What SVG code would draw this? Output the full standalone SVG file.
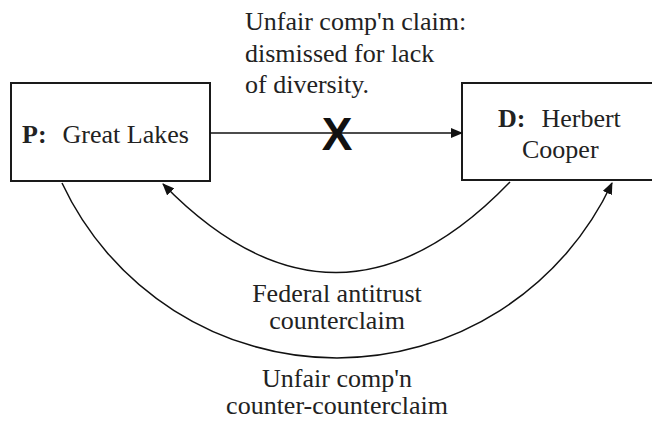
<svg xmlns="http://www.w3.org/2000/svg" width="652" height="422" viewBox="0 0 652 422">
  <style>
    .box { fill: #ffffff; stroke: #1a1a1a; stroke-width: 2; }
    .lbl { font-family: "Liberation Serif", "Times New Roman", serif; font-size: 26px; fill: #222222; }
    .ctr { text-anchor: middle; }
    .edge { fill: none; stroke: #111111; stroke-width: 1.5; }
    .x { font-family: "Liberation Sans", Arial, sans-serif; font-weight: bold; font-size: 46px; fill: #111111; text-anchor: middle; }
  </style>
  <defs>
    <marker id="arrow" viewBox="0 0 12 10" refX="11" refY="5" markerWidth="12" markerHeight="10" markerUnits="userSpaceOnUse" orient="auto">
      <path d="M0,0 L12,5 L0,10 Z" fill="#111111"/>
    </marker>
  </defs>
  <rect x="0" y="0" width="652" height="422" fill="#ffffff"/>

  <g id="node-plaintiff">
    <rect class="box" x="11" y="83" width="199" height="98"/>
    <text class="lbl" x="22" y="143"><tspan font-weight="bold">P:</tspan><tspan dx="16">Great Lakes</tspan></text>
  </g>

  <g id="node-defendant">
    <rect class="box" x="462" y="83" width="200" height="97"/>
    <text class="lbl" x="498" y="127"><tspan font-weight="bold">D:</tspan><tspan dx="16">Herbert</tspan></text>
    <text class="lbl" x="522" y="158">Cooper</text>
  </g>

  <g id="connectors">
    <line class="edge" x1="210" y1="133" x2="462" y2="133" marker-end="url(#arrow)"/>
    <path class="edge" d="M510,182 Q336.5,362 163,184" marker-end="url(#arrow)"/>
    <path class="edge" d="M62,183 A303.6,303.6 0 0 0 612,183" marker-end="url(#arrow)"/>
  </g>

  <g id="labels">
    <text class="x" x="337" y="150">X</text>
    <text class="lbl" x="245" y="30">Unfair comp'n claim:</text>
    <text class="lbl" x="245" y="62">dismissed for lack</text>
    <text class="lbl" x="245" y="93">of diversity.</text>
    <text class="lbl ctr" x="337" y="302">Federal antitrust</text>
    <text class="lbl ctr" x="337" y="329">counterclaim</text>
    <text class="lbl ctr" x="337" y="387">Unfair comp'n</text>
    <text class="lbl ctr" x="337" y="414">counter-counterclaim</text>
  </g>
</svg>
